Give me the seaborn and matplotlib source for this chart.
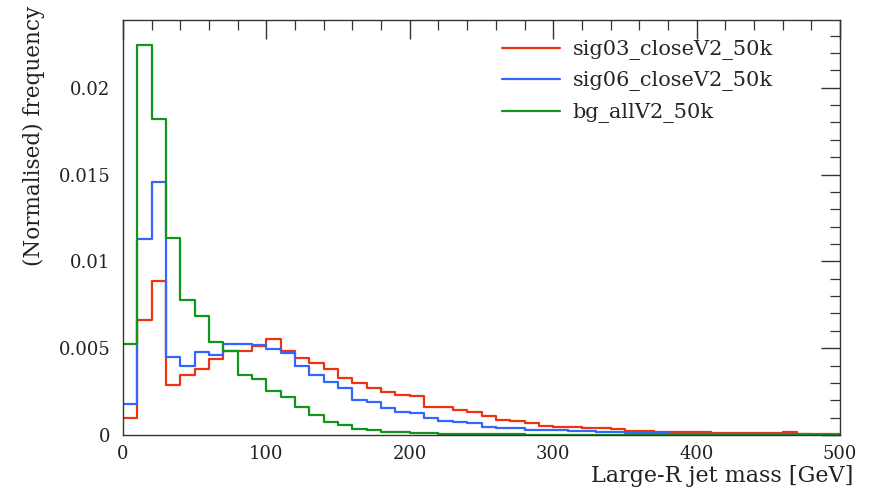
import numpy as np
import pandas as pd
import matplotlib
matplotlib.use("Agg")
import matplotlib.pyplot as plt
import seaborn as sns
from matplotlib.ticker import MultipleLocator

bin_edges = list(range(0, 510, 10))

sig03 = [0.00100, 0.00662, 0.00889, 0.00288, 0.00343, 0.00378, 0.00439, 0.00485, 0.00483, 0.00515,
         0.00554, 0.00483, 0.00442, 0.00416, 0.00378, 0.00327, 0.00302, 0.00269, 0.00246, 0.00228,
         0.00222, 0.00163, 0.00160, 0.00144, 0.00131, 0.00107, 0.00086, 0.00080, 0.00067, 0.00050,
         0.00048, 0.00047, 0.00042, 0.00038, 0.00037, 0.00025, 0.00024, 0.00019, 0.00019, 0.00018,
         0.00018, 0.00010, 0.00010, 0.00009, 0.00010, 0.00009, 0.00017, 0.00008, 0.00006, 0.00005]

sig06 = [0.00180, 0.01127, 0.01455, 0.00447, 0.00398, 0.00480, 0.00463, 0.00526, 0.00526, 0.00520,
         0.00495, 0.00475, 0.00397, 0.00346, 0.00307, 0.00269, 0.00202, 0.00188, 0.00157, 0.00134,
         0.00125, 0.00096, 0.00081, 0.00073, 0.00067, 0.00048, 0.00042, 0.00038, 0.00029, 0.00026,
         0.00027, 0.00025, 0.00024, 0.00020, 0.00019, 0.00012, 0.00010, 0.00010, 0.00008, 0.00007,
         0.00006, 0.00005, 0.00005, 0.00004, 0.00004, 0.00003, 0.00003, 0.00003, 0.00002, 0.00002]

bg = [0.00525, 0.02246, 0.01822, 0.01137, 0.00780, 0.00683, 0.00538, 0.00485, 0.00348, 0.00324,
      0.00254, 0.00220, 0.00163, 0.00115, 0.00077, 0.00058, 0.00032, 0.00030, 0.00020, 0.00015,
      0.00012, 0.00010, 0.00008, 0.00006, 0.00005, 0.00004, 0.00003, 0.00003, 0.00002, 0.00002,
      0.00001, 0.00001, 0.00001, 0.00001, 0.00001, 0.00001, 0.00001, 0.00001, 0.00001, 0.00001,
      0.00001, 0.00001, 0.00001, 0.00001, 0.00001, 0.00001, 0.00001, 0.00001, 0.00001, 0.00001]

series_names = ["sig03_closeV2_50k", "sig06_closeV2_50k", "bg_allV2_50k"]
series_colors = ["#EE3311", "#3366FF", "#109618"]
y_tick_values = [0, 0.005, 0.01, 0.015, 0.02]
y_tick_labels = ["0", "0.005", "0.01", "0.015", "0.02"]

centers = [(a + b) / 2 for a, b in zip(bin_edges[:-1], bin_edges[1:])]
frames = []
for name, vals in zip(series_names, [sig03, sig06, bg]):
    frames.append(pd.DataFrame({"mass": centers, "freq": vals, "sample": name}))
df = pd.concat(frames, ignore_index=True)

sns.set_theme(style="white")
plt.rcParams["font.family"] = ["DejaVu Serif", "Liberation Serif"]

fig = plt.figure(figsize=(8.76, 5.03), dpi=100)
ax = fig.add_axes([123 / 876, 1 - 435 / 503, (840 - 123) / 876, (435 - 20) / 503])

for name, color in zip(series_names, series_colors):
    sub = df[df["sample"] == name]
    sns.histplot(data=sub, x="mass", weights="freq", bins=bin_edges, element="step",
                 fill=False, color=color, linewidth=1.6, ax=ax, label=name)

ax.set_xlim(0, 500)
ax.set_ylim(0, 0.0239)
ax.xaxis.set_major_locator(MultipleLocator(100))
ax.xaxis.set_minor_locator(MultipleLocator(20))
ax.yaxis.set_minor_locator(MultipleLocator(0.001))
ax.set_yticks(y_tick_values)
ax.set_yticklabels(y_tick_labels)

ax.tick_params(which="both", direction="in", top=True, right=True, colors="#333333",
               labelcolor="#222222", labelsize=13)
ax.tick_params(which="major", length=14, width=1.0, pad=9)
ax.tick_params(axis="x", which="major", pad=7)
ax.tick_params(which="minor", length=7, width=0.9)
for sp in ax.spines.values():
    sp.set_color("#333333")
    sp.set_linewidth(1.0)

ax.set_xlabel("Large-R jet mass [GeV]", fontsize=16, color="#222222", loc="right")
ax.xaxis.set_label_coords((853 - 123) / 717, (435 - 465) / 415)
ax.set_ylabel("(Normalised) frequency", fontsize=15.5, color="#222222", loc="top")
ax.yaxis.set_label_coords((45 - 123) / 717, (435 - 6) / 415)

leg = ax.legend(loc="upper left", frameon=False, fontsize=15, handlelength=2.8,
                handletextpad=0.58, labelspacing=0.55, borderpad=0, borderaxespad=0,
                bbox_to_anchor=(502 / 876, 1 - 40 / 503), bbox_transform=fig.transFigure)

fig.savefig("out.png", dpi=100)
